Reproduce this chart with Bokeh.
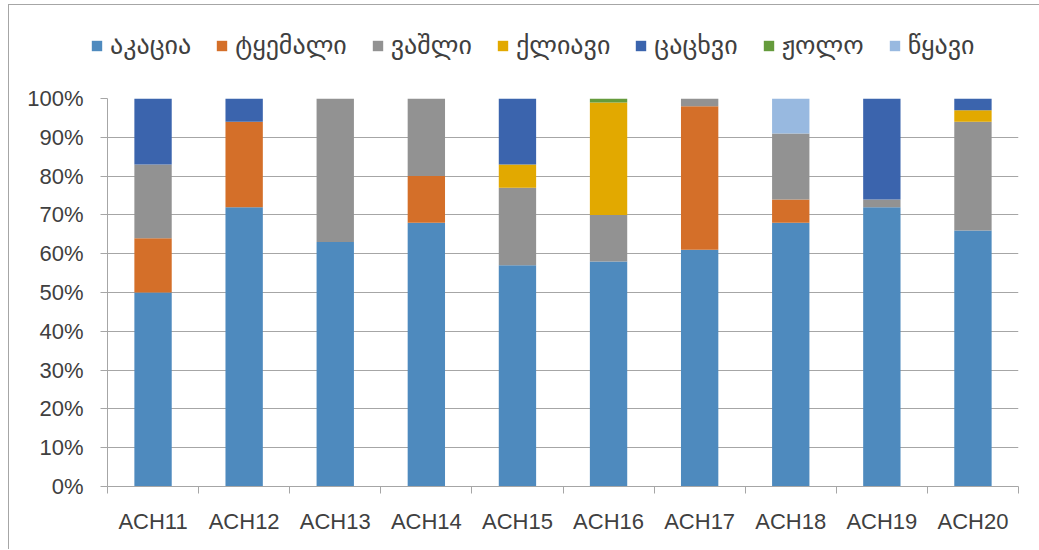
from bokeh.plotting import figure
from bokeh.layouts import column
from bokeh.models import (ColumnDataSource, Range1d, FixedTicker, Legend, LegendItem,
                          PrintfTickFormatter)
from bokeh.embed import file_html
from bokeh.resources import INLINE

categories = ["ACH11", "ACH12", "ACH13", "ACH14", "ACH15",
              "ACH16", "ACH17", "ACH18", "ACH19", "ACH20"]
series_names = ["აკაცია", "ტყემალი", "ვაშლი", "ქლიავი", "ცაცხვი", "ჟოლო", "წყავი"]

akacia    = [50, 72, 63, 68, 57, 58, 61, 68, 72, 66]
tkemali   = [14, 22,  0, 12,  0,  0, 37,  6,  0,  0]
vashli    = [19,  0, 37, 20, 20, 12,  2, 17,  2, 28]
kliavi    = [ 0,  0,  0,  0,  6, 29,  0,  0,  0,  3]
tsatskhvi = [17,  6,  0,  0, 17,  0,  0,  0, 26,  3]
zholo     = [ 0,  0,  0,  0,  0,  1,  0,  0,  0,  0]
tskavi    = [ 0,  0,  0,  0,  0,  0,  0,  9,  0,  0]

y_ticks = [0, 10, 20, 30, 40, 50, 60, 70, 80, 90, 100]

colors = ["#4e8abe", "#d46f29", "#929292", "#e2a900", "#3b64ad", "#659b3c", "#98b9e0"]

n = len(categories)
xpos = list(range(1, n + 1))
keys = ["s%d" % i for i in range(len(series_names))]
data = {"x": xpos}
for k, vals in zip(keys, [akacia, tkemali, vashli, kliavi, tsatskhvi, zholo, tskavi]):
    data[k] = vals
source = ColumnDataSource(data)

grid_col = "#a6a6a6"
text_col = "#404040"
num_font = "Liberation Sans"

# ---- legend strip (bars drawn off-view; only the legend shows) ----
pl = figure(width=1030, height=70, output_backend="svg", toolbar_location=None,
            x_range=Range1d(0.5, n + 0.5), y_range=Range1d(200, 300),
            x_axis_location=None, y_axis_location=None,
            min_border_left=0, min_border_right=0, min_border_top=0, min_border_bottom=0)
pl.frame_align = False
pl.outline_line_color = None
pl.grid.visible = False
leg_renderers = pl.vbar_stack(keys, x="x", width=0.41, color=colors, line_color=None, source=source)
items = [LegendItem(label=name, renderers=[r]) for name, r in zip(series_names, leg_renderers)]
legend = Legend(items=items, orientation="horizontal", location=(81, 15))
legend.glyph_width = 13
legend.glyph_height = 13
legend.label_standoff = 7
legend.spacing = 24
legend.padding = 0
legend.margin = 0
legend.border_line_color = None
legend.background_fill_alpha = 0
legend.label_text_font = "DejaVu Sans"
legend.label_text_font_size = "26px"
legend.label_text_color = text_col
pl.add_layout(legend, "center")

# ---- main chart ----
p = figure(width=1030, height=474, output_backend="svg", toolbar_location=None,
           x_range=Range1d(0.5, n + 0.5), y_range=Range1d(0, 100),
           min_border_left=98, min_border_right=21, min_border_top=23, min_border_bottom=63)
p.frame_align = False
p.outline_line_color = None
p.background_fill_color = "white"
p.border_fill_color = "white"

p.vbar_stack(keys, x="x", width=0.41, color=colors, line_color=None, source=source)

p.xaxis.ticker = FixedTicker(ticks=xpos, minor_ticks=[i + 0.5 for i in range(0, n + 1)])
p.xaxis.major_label_overrides = {x: c for x, c in zip(xpos, categories)}
p.xaxis.major_tick_line_color = None
p.xaxis.major_tick_out = 0
p.xaxis.major_tick_in = 0
p.xaxis.minor_tick_out = 7
p.xaxis.minor_tick_in = 0
p.xaxis.minor_tick_line_color = grid_col
p.xaxis.axis_line_color = grid_col
p.xaxis.major_label_standoff = 15
p.xaxis.major_label_text_font = num_font
p.xaxis.major_label_text_font_size = "22px"
p.xaxis.major_label_text_color = text_col

p.yaxis.ticker = FixedTicker(ticks=y_ticks, minor_ticks=[])
p.yaxis.formatter = PrintfTickFormatter(format="%d%%")
p.yaxis.major_tick_out = 7
p.yaxis.major_tick_in = 0
p.yaxis.major_tick_line_color = grid_col
p.yaxis.axis_line_color = grid_col
p.yaxis.major_label_standoff = 17
p.yaxis.major_label_text_font = num_font
p.yaxis.major_label_text_font_size = "22px"
p.yaxis.major_label_text_color = text_col

p.xgrid.visible = False
p.ygrid.ticker = FixedTicker(ticks=y_ticks, minor_ticks=[])
p.ygrid.grid_line_color = grid_col
p.ygrid.grid_line_width = 1

layout = column(pl, p, spacing=0,
                styles={"margin-left": "8px", "margin-top": "4px",
                        "border-left": "1px solid #a6a6a6", "border-top": "1px solid #a6a6a6"})

open("out.html", "w").write(file_html(layout, INLINE))
